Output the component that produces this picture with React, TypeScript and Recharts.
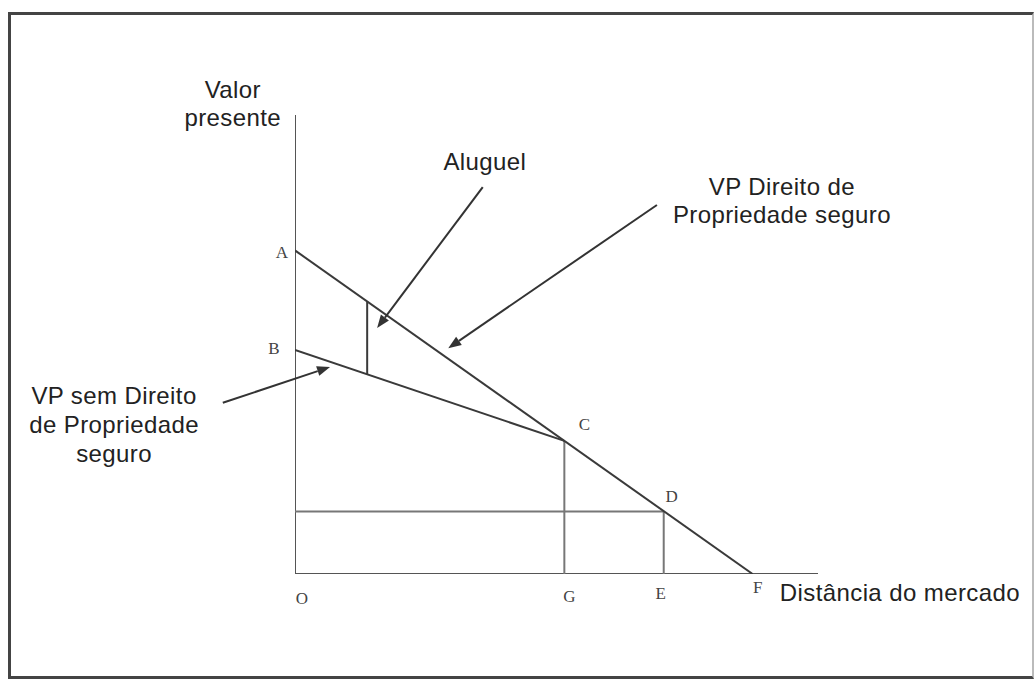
import React from 'react';
import { LineChart, Line, XAxis, YAxis, ReferenceLine, ReferenceDot } from 'recharts';

// segments of the diagram, in axis units (0..100 on both axes)
const valueAxis = [{ x: 0, y: 0 }, { x: 0, y: 100 }];
const distanceAxis = [{ x: 0, y: 0 }, { x: 100, y: 0 }];
const securedLine = [{ x: 0, y: 70.5 }, { x: 87.5, y: 0 }];
const unsecuredLine = [{ x: 0, y: 48.8 }, { x: 51.5, y: 29 }];
const rentSegment = [{ x: 13.8, y: 59.4 }, { x: 13.8, y: 43.5 }];
const gDrop = [{ x: 51.5, y: 29 }, { x: 51.5, y: 0 }];
const eDrop = [{ x: 70.5, y: 13.6 }, { x: 70.5, y: 0 }];
const dLevel = [{ x: 0, y: 13.6 }, { x: 70.5, y: 13.6 }];

const pointLabels = [
  { name: 'A', x: 0, y: 70.5 },
  { name: 'B', x: 0, y: 48.8 },
  { name: 'C', x: 51.5, y: 29 },
  { name: 'D', x: 70.5, y: 13.6 },
  { name: 'G', x: 51.5, y: 0 },
  { name: 'E', x: 70.5, y: 0 },
  { name: 'F', x: 87.5, y: 0 },
  { name: 'O', x: 0, y: 0 },
];

const arrows = [
  { from: { x: 35.9, y: 84.3 }, to: { x: 15.7, y: 53.6 } },
  { from: { x: 69.2, y: 80.4 }, to: { x: 29.3, y: 49.2 } },
  { from: { x: -13.8, y: 37.3 }, to: { x: 6.7, y: 45.1 } },
];

const captions = [
  { lines: ['Valor', 'presente'], x: -11.9, y: 103.7 },
  { lines: ['Aluguel'], x: 36.3, y: 88 },
  { lines: ['VP Direito de', 'Propriedade seguro'], x: 93.1, y: 82.6 },
  { lines: ['VP sem Direito', 'de Propriedade', 'seguro'], x: -34.6, y: 37 },
];
const xAxisTitle = { text: 'Distância do mercado', x: 92.7, y: -5.9 };

const labelOffset: Record<string, [number, number]> = {
  A: [-13, 2], B: [-21, -2], C: [20, -16], D: [8, -15],
  G: [5, 22], E: [-3, 19], F: [5, 13], O: [7, 24],
};
const lineGap: Record<number, number> = { 1: 0, 2: 28, 3: 29 };

const ink = '#333';
const sans = '"Liberation Sans", Arial, sans-serif';
const serif = '"Liberation Serif", "Times New Roman", serif';
const capSize = 24;
const capSpacing = 0.4;

const Arrow = (p: any) => {
  const { x1, y1, x2, y2 } = p;
  const a = Math.atan2(y2 - y1, x2 - x1);
  const len = 13, half = 5;
  const bx = x2 - len * Math.cos(a), by = y2 - len * Math.sin(a);
  const pts = [
    `${x2},${y2}`,
    `${bx + half * Math.sin(a)},${by - half * Math.cos(a)}`,
    `${bx - half * Math.sin(a)},${by + half * Math.cos(a)}`,
  ].join(' ');
  return (
    <g>
      <line x1={x1} y1={y1} x2={bx} y2={by} stroke={ink} strokeWidth={2} />
      <polygon points={pts} fill={ink} />
    </g>
  );
};

const segLine = (data: { x: number; y: number }[], key: string, color: string) => (
  <Line
    key={key}
    data={data}
    dataKey="y"
    type="linear"
    stroke={color}
    strokeWidth={2}
    dot={false}
    activeDot={false}
    isAnimationActive={false}
  />
);

export default function App() {
  return (
    <div style={{ position: 'absolute', left: 0, top: 0, width: 1034, height: 682, background: '#fff' }}>
      <div
        style={{
          position: 'absolute', left: 8, top: 12, width: 1026, height: 667, boxSizing: 'border-box',
          borderTop: '3px solid #444', borderLeft: '3px solid #444', borderBottom: '3px solid #444',
          borderRight: '2px solid #bbb',
        }}
      />
      <div style={{ position: 'absolute', left: 0, top: 0 }}>
        <LineChart width={1034} height={682} margin={{ top: 115, right: 216, bottom: 108, left: 295 }}>
          <XAxis type="number" dataKey="x" domain={[0, 100]} allowDataOverflow hide />
          <YAxis type="number" domain={[0, 100]} allowDataOverflow hide />
          {segLine(valueAxis, 'yax', '#555')}
          {segLine(distanceAxis, 'xax', '#555')}
          {segLine(dLevel, 'd', '#777')}
          {segLine(gDrop, 'g', '#777')}
          {segLine(eDrop, 'e', '#777')}
          {segLine(securedLine, 'af', '#3a3a3a')}
          {segLine(unsecuredLine, 'bc', '#3a3a3a')}
          {segLine(rentSegment, 'rent', '#3a3a3a')}
          {arrows.map((a, i) => (
            <ReferenceLine key={'ar' + i} segment={[a.from, a.to]} ifOverflow="visible" shape={Arrow} />
          ))}
          {pointLabels.map((p) => (
            <ReferenceDot
              key={p.name}
              x={p.x}
              y={p.y}
              r={0}
              ifOverflow="visible"
              shape={(s: any) => (
                <text x={s.cx + labelOffset[p.name][0]} y={s.cy + labelOffset[p.name][1]} textAnchor="middle"
                  dominantBaseline="central" fontFamily={serif} fontSize={17} fill="#444">
                  {p.name}
                </text>
              )}
            />
          ))}
          {captions.map((c, i) => (
            <ReferenceDot
              key={'cap' + i}
              x={c.x}
              y={c.y}
              r={0}
              ifOverflow="visible"
              shape={(s: any) => (
                <text x={s.cx} y={s.cy} textAnchor="middle" fontFamily={sans} fontSize={capSize}
                  letterSpacing={capSpacing} fill="#222">
                  {c.lines.map((l, j) => (
                    <tspan key={j} x={s.cx} dy={j === 0 ? 0 : lineGap[c.lines.length]}>{l}</tspan>
                  ))}
                </text>
              )}
            />
          ))}
          <ReferenceDot
            x={xAxisTitle.x}
            y={xAxisTitle.y}
            r={0}
            ifOverflow="visible"
            shape={(s: any) => (
              <text x={s.cx} y={s.cy} textAnchor="start" fontFamily={sans} fontSize={capSize}
                letterSpacing={capSpacing} fill="#222">
                {xAxisTitle.text}
              </text>
            )}
          />
        </LineChart>
      </div>
    </div>
  );
}
